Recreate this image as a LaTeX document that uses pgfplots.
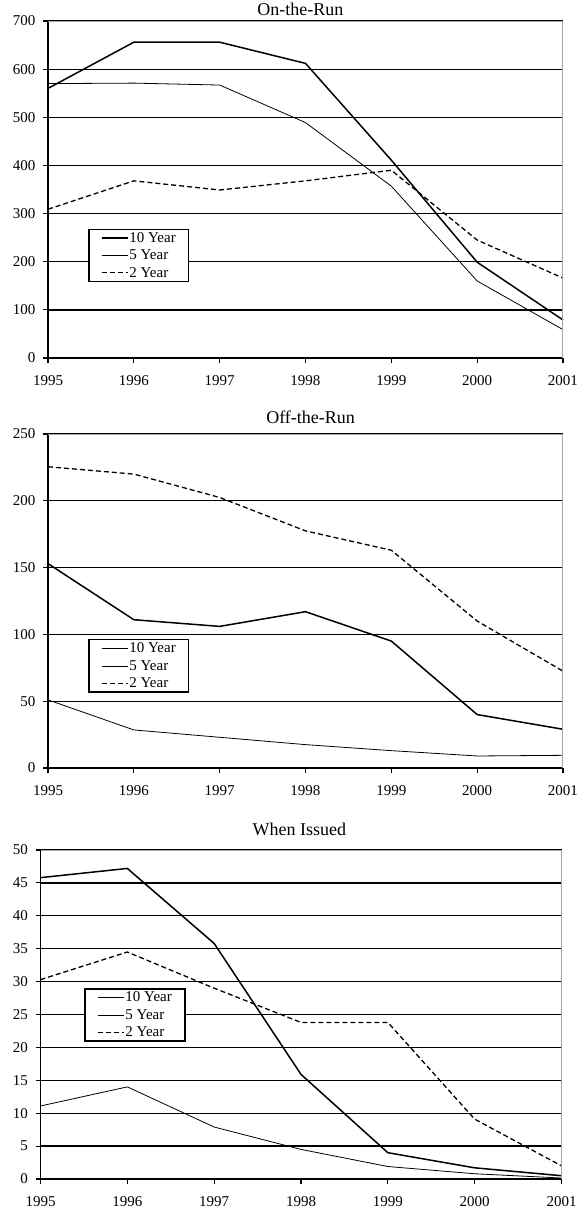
\documentclass[border=0pt]{standalone}
\usepackage{fontspec}
\setmainfont{Liberation Serif}
\usepackage{pgfplots}
\pgfplotsset{compat=1.18}
\tikzset{framestyle/.style={gray!70,line width=1pt}}
\begin{document}
\begin{tikzpicture}
\useasboundingbox (0pt,0pt) rectangle (576pt,-1213pt);
\pgfplotsset{
 mychart/.style={
  scale only axis,
  clip=false,
  xmin=1995,xmax=2001,
  xtick={1995,1996,1997,1998,1999,2000,2001},
  ymin=0,
  axis x line*=bottom, axis y line*=left,
  axis line style={black,line width=1.3pt},
  ymajorgrids, grid style={black,line width=1.3pt},
  xtick pos=left, ytick pos=left,
  xtick align=outside, ytick align=outside,
  major tick length=5pt,
  every tick/.style={black,line width=1.1pt},
  tick label style={font=\fontsize{15}{16}\selectfont},
  xticklabel style={yshift=-9pt},
  yticklabel style={xshift=-4pt},
  /pgf/number format/assume math mode=true,
  /pgf/number format/1000 sep={},
  no markers,
  title style={font=\fontsize{18}{20}\selectfont, anchor=center},
  legend cell align=left,
  legend style={draw=black,line width=1.4pt,font=\fontsize{15}{16}\selectfont,
    inner xsep=12pt, inner ysep=1pt, row sep=2pt, anchor=north west,
    nodes={inner xsep=1pt}},
  legend image code/.code={\draw[##1] (0pt,0pt) -- (26pt,0pt);},
 },
 ten/.style={black,line width=1.5pt},
 five/.style={black,line width=0.8pt},
 two/.style={black,line width=1.3pt,dash pattern=on 5pt off 3pt},
}

% Chart 1
\begin{axis}[mychart, at={(48pt,-358pt)}, anchor=south west, width=515pt, height=337pt,
  ymax=700, ytick={0,100,...,700},
  title={On-the-Run}, title style={at={(0.49,1)}, yshift=6pt},
  legend style={at={(0.078,0.384)}}]
\addplot[ten] coordinates {(1995,560) (1996,656) (1997,656) (1998,612) (1999,411) (2000,199) (2001,79)};
\addplot[five] coordinates {(1995,570) (1996,571) (1997,567) (1998,489) (1999,357) (2000,160) (2001,59)};
\addplot[two] coordinates {(1995,309) (1996,368) (1997,349) (1998,368) (1999,390) (2000,245) (2001,166)};
\legend{10 Year,5 Year,2 Year}
\draw[framestyle] (rel axis cs:0,1) -- (rel axis cs:1,1) -- (rel axis cs:1,0);
\end{axis}

% Chart 2
\begin{axis}[mychart, at={(48pt,-768pt)}, anchor=south west, width=515pt, height=334pt,
  ymax=250, ytick={0,50,...,250},
  title={Off-the-Run}, title style={at={(0.51,1)}, yshift=11pt},
  legend style={at={(0.078,0.386)}}]
\addplot[ten] coordinates {(1995,153) (1996,111) (1997,106) (1998,117) (1999,95) (2000,40) (2001,29)};
\addplot[five] coordinates {(1995,51) (1996,28.5) (1997,23) (1998,17.5) (1999,13) (2000,9) (2001,9.5)};
\addplot[two] coordinates {(1995,225.5) (1996,220) (1997,202.5) (1998,177.5) (1999,163) (2000,110) (2001,72.5)};
\legend{10 Year,5 Year,2 Year}
\draw[framestyle] (rel axis cs:0,1) -- (rel axis cs:1,1) -- (rel axis cs:1,0);
\end{axis}

% Chart 3
\begin{axis}[mychart, at={(40.5pt,-1179pt)}, anchor=south west, width=521pt, height=329pt,
  ymax=50, ytick={0,5,...,50},
  title={When Issued}, title style={at={(0.497,1)}, yshift=15pt},
  legend style={at={(0.084,0.58)}}]
\addplot[ten] coordinates {(1995,45.8) (1996,47.2) (1997,35.8) (1998,15.9) (1999,4.0) (2000,1.7) (2001,0.5)};
\addplot[five] coordinates {(1995,11.1) (1996,14.0) (1997,7.9) (1998,4.5) (1999,1.9) (2000,0.8) (2001,0.15)};
\addplot[two] coordinates {(1995,30.3) (1996,34.5) (1997,29.0) (1998,23.8) (1999,23.8) (2000,9.1) (2001,2.0)};
\legend{10 Year,5 Year,2 Year}
\draw[framestyle] (rel axis cs:0,1) -- (rel axis cs:1,1) -- (rel axis cs:1,0);
\end{axis}
\end{tikzpicture}
\end{document}
